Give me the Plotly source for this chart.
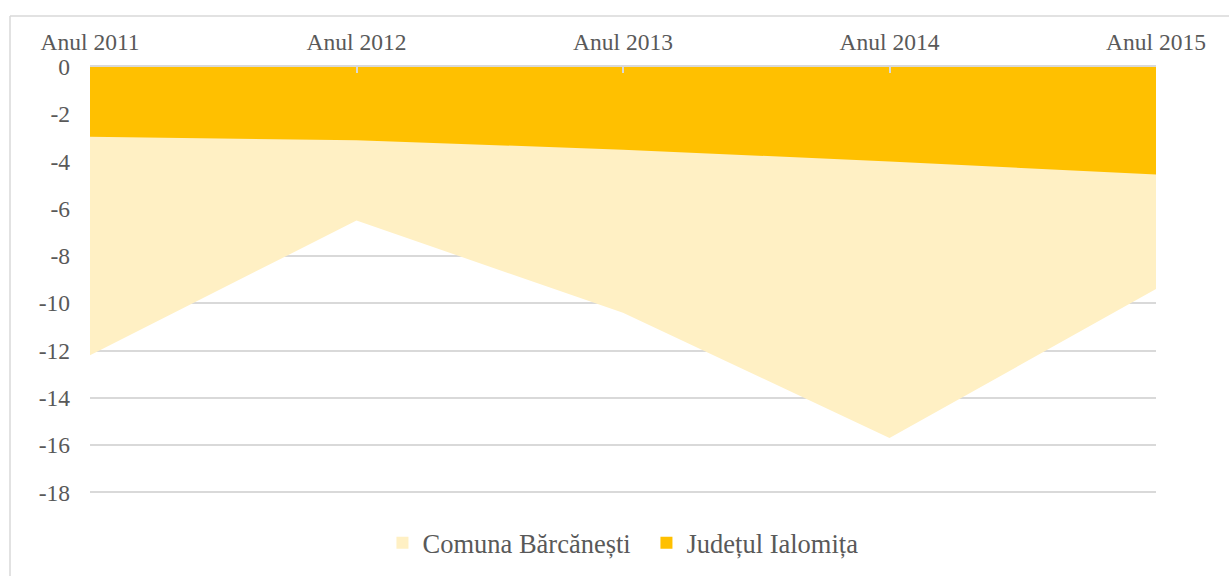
import plotly.graph_objects as go

categories = ["Anul 2011", "Anul 2012", "Anul 2013", "Anul 2014", "Anul 2015"]
comuna_barcanesti = [-12.2, -6.5, -10.4, -15.7, -9.4]
judetul_ialomita = [-2.95, -3.1, -3.5, -4.0, -4.55]
series_names = ["Comuna Bărcănești", "Județul Ialomița"]
series_colors = ["#FFF0C4", "#FFC000"]
y_ticks = [0, -2, -4, -6, -8, -10, -12, -14, -16, -18]

W, H = 1229, 576
L, R, T, B = 90, 73, 67, 79
pw, ph = W - L - R, H - T - B

font_family = "Liberation Serif"
text_color = "#595959"
grid_color = "#D9D9D9"

fig = go.Figure()
for name, vals, col in zip(series_names, [comuna_barcanesti, judetul_ialomita], series_colors):
    fig.add_trace(go.Scatter(
        x=categories, y=vals, mode="lines", line=dict(width=0, color=col),
        fill="tozeroy", fillcolor=col, name=name, showlegend=False, hoverinfo="x+y+name",
    ))
    fig.add_trace(go.Scatter(
        x=[None], y=[None], mode="markers", name=name,
        marker=dict(symbol="square", size=14, color=col), showlegend=True,
    ))

fig.update_layout(
    width=W, height=H,
    margin=dict(l=L, r=R, t=T, b=B, autoexpand=False),
    paper_bgcolor="white", plot_bgcolor="white",
    font=dict(family=font_family, color=text_color, size=23),
    showlegend=True,
    legend=dict(orientation="h", x=0.522, xanchor="center", y=-0.107, yanchor="middle",
                font=dict(size=26.5, family=font_family, color=text_color),
                entrywidth=219, entrywidthmode="pixels",
                itemsizing="constant", tracegroupgap=0, itemclick=False),
    xaxis=dict(type="category", side="top", range=[0, len(categories) - 1],
               showline=True, linecolor=grid_color, linewidth=1.5,
               ticks="inside", ticklen=6, tickcolor=grid_color, tickwidth=1.5,
               showgrid=False, zeroline=False, ticklabelstandoff=6,
               tickfont=dict(size=23.5, family=font_family, color=text_color)),
    yaxis=dict(range=[-18.2, 0], tickvals=y_ticks, ticktext=[str(v) for v in y_ticks],
               showgrid=True, gridcolor=grid_color, gridwidth=1.5, zeroline=False,
               showline=False, ticks="", ticklabelstandoff=19,
               tickfont=dict(size=23.5, family=font_family, color=text_color)),
)

# chart outer border (extends past the canvas on right/bottom)
x_left = (10 - L) / pw
y_top = 1 + (T - 16) / ph
fig.add_shape(type="line", xref="paper", yref="paper", x0=x_left, x1=1.2, y0=y_top, y1=y_top,
              line=dict(color=grid_color, width=1.5), layer="below")
fig.add_shape(type="line", xref="paper", yref="paper", x0=x_left, x1=x_left, y0=y_top, y1=-0.3,
              line=dict(color=grid_color, width=1.5), layer="below")

fig.write_html("out.html")
